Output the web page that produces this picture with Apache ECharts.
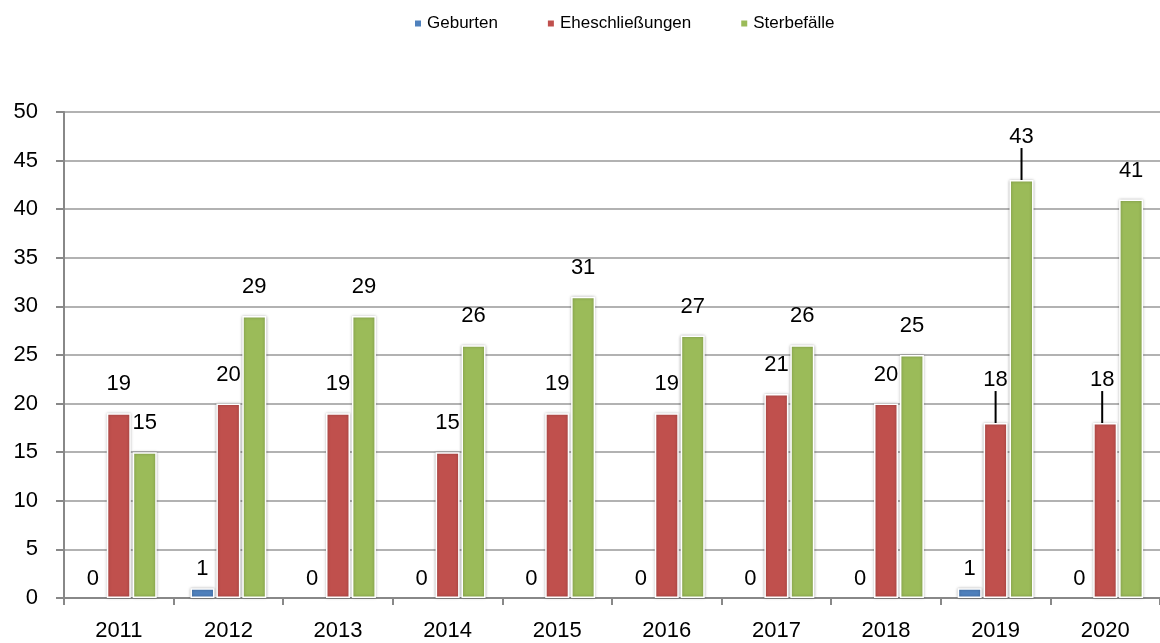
<!DOCTYPE html>
<html lang="de">
<head>
<meta charset="UTF-8">
<title>Geburten, Eheschließungen, Sterbefälle</title>
<style>
  html, body { margin: 0; padding: 0; background: #fff; }
  #chart { width: 1160px; height: 643px; }
</style>
</head>
<body>
<div id="chart"></div>
<script src="https://cdn.jsdelivr.net/npm/echarts@6/dist/echarts.min.js"></script>
<script>
// Daten
const jahre = ['2011', '2012', '2013', '2014', '2015', '2016', '2017', '2018', '2019', '2020'];
const geburten = [0, 1, 0, 0, 0, 0, 0, 0, 1, 0];
const eheschliessungen = [19, 20, 19, 15, 19, 19, 21, 20, 18, 18];
const sterbefaelle = [15, 29, 29, 26, 31, 27, 26, 25, 43, 41];

const schrift = '"Liberation Sans", Arial, sans-serif';

// Labels mit Führungslinie (seriesIndex-dataIndex)
const verschoben = { '1-8': { dy: -14 }, '2-8': { dy: -14 }, '1-9': { dx: -3, dy: -14 } };

function serie(idx, name, data, color, abstand) {
  return {
    name: name,
    type: 'bar',
    data: data.map(function (v, i) {
      const item = { value: v };
      if (verschoben[idx + '-' + i]) item.labelLine = { show: true };
      // Nullwerte ohne Rahmen und Schatten
      if (v === 0) item.itemStyle = { borderWidth: 0, shadowBlur: 0, shadowColor: 'transparent' };
      return item;
    }),
    barWidth: 24,
    barGap: '8%',
    itemStyle: {
      color: color,
      borderColor: '#fff',
      borderWidth: 1.5,
      shadowBlur: 3,
      shadowColor: 'rgba(0,0,0,0.3)'
    },
    label: {
      show: true,
      position: 'top',
      distance: abstand,
      color: '#000',
      fontSize: 22,
      fontFamily: schrift
    },
    labelLine: { show: false, lineStyle: { color: '#000', width: 2 } },
    labelLayout: function (p) {
      return verschoben[p.seriesIndex + '-' + p.dataIndex] || {};
    }
  };
}

const chart = echarts.init(document.getElementById('chart'));
chart.setOption({
  animation: false,
  legend: {
    top: 10,
    left: 408,
    itemWidth: 8,
    itemHeight: 8,
    itemGap: 48,
    icon: 'rect',
    textStyle: { fontSize: 17, fontFamily: schrift, color: '#000' }
  },
  grid: { left: 64, top: 112, width: 1110, bottom: 45 },
  xAxis: {
    type: 'category',
    data: jahre,
    axisLine: { lineStyle: { color: '#888', width: 2 } },
    axisTick: { show: true, length: 7, lineStyle: { color: '#888', width: 2 } },
    axisLabel: { color: '#000', fontSize: 22, fontFamily: schrift, margin: 22 }
  },
  yAxis: {
    type: 'value',
    min: 0,
    max: 50,
    interval: 5,
    axisLine: { show: true, lineStyle: { color: '#888', width: 2 } },
    axisTick: { show: true, length: 8, lineStyle: { color: '#888', width: 2 } },
    axisLabel: { color: '#000', fontSize: 22, fontFamily: schrift, margin: 26 },
    splitLine: { lineStyle: { color: '#999', width: 1.5 } }
  },
  series: [
    serie(0, 'Geburten', geburten, '#4F81BD', 8),
    serie(1, 'Eheschließungen', eheschliessungen, '#C0504D', 18),
    serie(2, 'Sterbefälle', sterbefaelle, '#9BBB59', 18)
  ]
});
</script>
</body>
</html>
